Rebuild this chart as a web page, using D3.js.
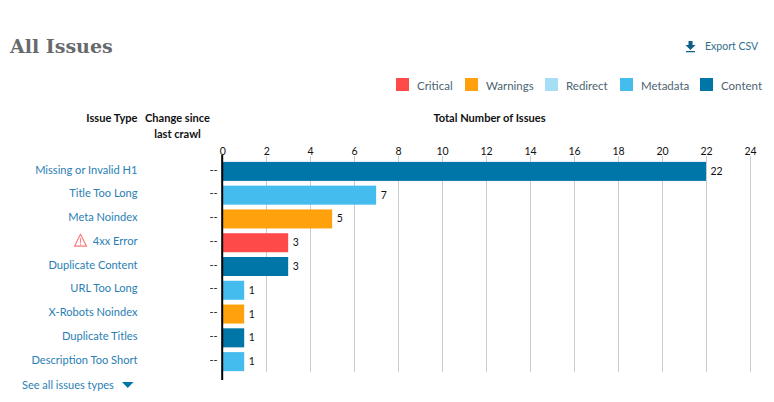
<!DOCTYPE html>
<html>
<head>
<meta charset="utf-8">
<script src="https://cdnjs.cloudflare.com/ajax/libs/d3/7.8.5/d3.min.js"></script>
<style>
html, body {margin: 0; padding: 0; background: #fff;}
svg {display: block; font-family: Lato, sans-serif;}
</style>
</head>
<body>
<div id="graph"></div>
<script>
var w = 774, h = 402

var issues = ['Missing or Invalid H1', 'Title Too Long', 'Meta Noindex', '4xx Error', 'Duplicate Content',
  'URL Too Long', 'X-Robots Noindex', 'Duplicate Titles', 'Description Too Short']
var counts = [22, 7, 5, 3, 3, 1, 1, 1, 1]
var kinds = ['Content', 'Metadata', 'Warnings', 'Critical', 'Content', 'Metadata', 'Warnings', 'Content', 'Metadata']
var legendNames = ['Critical', 'Warnings', 'Redirect', 'Metadata', 'Content']
var legendColors = ['#ff4a4a', '#ffa10d', '#a6dff5', '#45bcee', '#0075a8']
var legendX = [396, 465, 545, 620, 700]
var ticks = d3.range(0, 25, 2)

var color = d3.scaleOrdinal().domain(legendNames).range(legendColors)
var x = d3.scaleLinear().domain([0, 24]).range([222.2, 750])
var y = d3.scaleBand().domain(issues).range([159.5, 373.5]).paddingInner(0.2).paddingOuter(0.1)

var svg = d3.select('#graph').append('svg').attr('width', w).attr('height', h)

// title + export link
svg.append('text').attr('x', 10).attr('y', 53)
    .style('font-family', '"DejaVu Serif", serif').style('font-weight', 700)
    .style('font-size', '19px').attr('fill', '#666a6c').text('All Issues')

var exp = svg.append('g').attr('fill', '#0f5f84')
exp.append('path').attr('d', 'M688.5 41h4v4h3l-5 5-5-5h3zM686 51h9v1.300h-9z')
exp.append('text').attr('x', 705).attr('y', 50).style('font-size', '10.5px').attr('fill', '#2f6f8d').text('Export CSV')

// legend
var legend = svg.selectAll('g.legend').data(legendNames).enter().append('g')
    .attr('class', 'legend')
    .attr('transform', function(d, i){ return 'translate(' + legendX[i] + ',78)' })
legend.append('rect').attr('width', 13).attr('height', 13).attr('fill', function(d){ return color(d) })
legend.append('text').attr('x', 21).attr('y', 12).style('font-size', '11.5px').attr('fill', '#4c6472').text(String)

// column headers
var head = svg.append('g').style('font-size', '11.1px').style('font-weight', 700).attr('fill', '#111')
head.append('text').attr('x', 137.5).attr('y', 122).attr('text-anchor', 'end').text('Issue Type')
head.append('text').attr('x', 177.5).attr('y', 122).attr('text-anchor', 'middle').text('Change since')
head.append('text').attr('x', 177.5).attr('y', 138).attr('text-anchor', 'middle').text('last crawl')
head.append('text').attr('x', 489.5).attr('y', 122).attr('text-anchor', 'middle').text('Total Number of Issues')

// axis + grid
var axis = svg.append('g').attr('transform', 'translate(0,155)')
    .call(d3.axisTop(x).tickValues(ticks).tickSize(0).tickPadding(0))
axis.select('.domain').remove()
axis.selectAll('text').attr('y', -0.5).style('font-family', 'Lato, sans-serif').style('font-size', '10.5px').attr('fill', '#111')

svg.selectAll('line.grid').data(ticks.slice(1)).enter().append('line')
    .attr('class', 'grid')
    .attr('x1', x).attr('x2', x).attr('y1', 156).attr('y2', 372)
    .attr('stroke', '#c5cdcf').attr('stroke-width', 1)
    .attr('shape-rendering', 'crispEdges')

// bars
svg.selectAll('rect.bar').data(issues).enter().append('rect')
    .attr('class', 'bar')
    .attr('x', x(0))
    .attr('y', function(d){ return y(d) })
    .attr('width', function(d, i){ return x(counts[i]) - x(0) })
    .attr('height', y.bandwidth())
    .attr('fill', function(d, i){ return color(kinds[i]) })

svg.append('line').attr('x1', x(0)).attr('x2', x(0)).attr('y1', 155).attr('y2', 380)
    .attr('stroke', '#000').attr('stroke-width', 2)

// row labels
function mid(d){ return y(d) + y.bandwidth() / 2 }

svg.selectAll('text.issue').data(issues).enter().append('text')
    .attr('class', 'issue')
    .attr('x', 137.5).attr('y', function(d){ return mid(d) + 2.2 })
    .attr('text-anchor', 'end').style('font-size', '11.1px').attr('fill', '#2a80b5').text(String)

svg.selectAll('text.change').data(issues).enter().append('text')
    .attr('class', 'change')
    .attr('x', 213.5).attr('y', function(d){ return mid(d) + 2.2 })
    .attr('text-anchor', 'middle').style('font-size', '11px').attr('fill', '#222').text('--')

svg.selectAll('text.count').data(issues).enter().append('text')
    .attr('class', 'count')
    .attr('x', function(d, i){ return x(counts[i]) + 4.5 })
    .attr('y', function(d){ return mid(d) + 3.5 })
    .style('font-size', '10.5px').attr('fill', '#111')
    .text(function(d, i){ return counts[i] })

// warning icon next to the critical row
var warn = svg.append('g').attr('transform', 'translate(80.5,' + (mid('4xx Error') - 2) + ')')
warn.append('path').attr('d', 'M0 -6.5L6 5.5H-6Z').attr('fill', 'none').attr('stroke', '#ff7a7a').attr('stroke-width', 1.2).attr('stroke-linejoin', 'round')
warn.append('path').attr('d', 'M0 -2.5V2M0 3V4.4').attr('stroke', '#ff7a7a').attr('stroke-width', 1.1)

// footer link
svg.append('text').attr('x', 22).attr('y', 389).style('font-size', '11px').attr('fill', '#2a80b5').text('See all issues types')
svg.append('path').attr('d', 'M122 382H133.500L127.750 388Z').attr('fill', '#0075a8')
</script>
</body>
</html>
